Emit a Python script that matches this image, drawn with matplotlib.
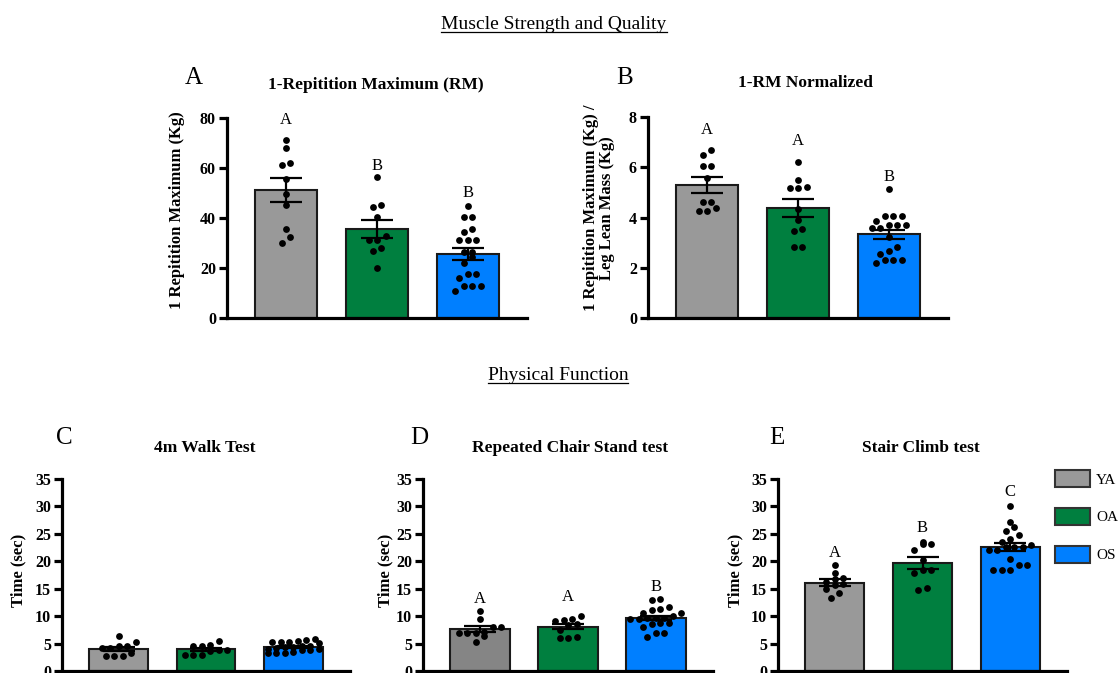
import numpy as np
import matplotlib
matplotlib.use("Agg")
import matplotlib.pyplot as plt
from matplotlib.lines import Line2D
from matplotlib.patches import Patch

plt.rcParams['font.family'] = ['Liberation Serif', 'DejaVu Serif']

W, H = 1120, 673
groups = ['YA', 'OA', 'OS']
colors = ['#999999', '#007f3f', '#007fff']

# A: 1-RM (kg)
rm_ya = [71.3, 68.0, 62.1, 61.1, 55.7, 49.6, 45.1, 35.7, 32.5, 30.1]
rm_oa = [56.4, 45.1, 44.3, 40.4, 32.7, 31.2, 31.2, 28.0, 26.7, 19.9]
rm_os = [44.9, 40.4, 40.4, 35.7, 34.5, 31.1, 31.1, 31.1, 26.5, 26.5,
         24.5, 21.9, 17.5, 17.5, 16.1, 12.8, 12.8, 12.8, 10.8]
# B: 1-RM / leg lean mass
nrm_ya = [6.70, 6.49, 6.06, 6.06, 5.58, 4.60, 4.60, 4.38, 4.26, 4.26]
nrm_oa = [6.22, 5.48, 5.23, 5.16, 5.16, 4.35, 3.91, 3.55, 3.46, 2.82, 2.82]
nrm_os = [5.14, 4.05, 4.05, 4.05, 3.88, 3.72, 3.72, 3.72, 3.57, 3.57,
          3.24, 2.82, 2.68, 2.55, 2.31, 2.31, 2.31, 2.20]
# C: 4m walk (sec)
walk_ya = [6.3, 5.2, 4.6, 4.6, 4.2, 4.2, 3.3, 2.8, 2.8, 2.8]
walk_oa = [5.5, 4.7, 4.6, 4.6, 3.9, 3.9, 3.6, 2.9, 2.9, 2.9]
walk_os = [5.9, 5.6, 5.4, 5.3, 5.2, 5.2, 5.1, 4.6, 4.5, 4.4,
           4.3, 4.2, 4.1, 4.0, 3.9, 3.8, 3.4, 3.3, 3.3, 3.2]
# D: repeated chair stand (sec)
chair_ya = [11.0, 9.5, 8.0, 8.0, 7.0, 7.2, 6.9, 6.9, 6.3, 5.3]
chair_oa = [9.95, 9.4, 9.3, 9.2, 8.5, 8.3, 7.4, 6.2, 6.1, 6.1]
chair_os = [13.2, 12.9, 11.6, 11.3, 11.2, 10.6, 10.5, 10.1, 9.7, 9.6,
            9.6, 9.5, 9.4, 8.8, 8.7, 8.6, 8.0, 7.0, 6.9, 6.2]
# E: stair climb (sec)
stair_ya = [19.4, 17.9, 17.0, 16.8, 16.2, 15.8, 15.6, 14.9, 14.3, 13.3]
stair_oa = [23.5, 23.2, 23.2, 22.1, 20.3, 18.5, 18.5, 17.8, 15.2, 14.7]
stair_os = [30.0, 27.1, 26.2, 25.6, 24.8, 24.1, 23.6, 23.0, 22.6, 22.6,
            22.6, 22.0, 22.0, 20.5, 19.4, 19.4, 18.5, 18.5, 18.5]

letters_a, letters_a_y = ['A', 'B', 'B'], [79.2, 60.8, 50.0]
letters_b, letters_b_y = ['A', 'A', 'B'], [7.5, 7.05, 5.63]
letters_d, letters_d_y = ['A', 'A', 'B'], [13.2, 13.5, 15.4]
letters_e, letters_e_y = ['A', 'B', 'C'], [21.5, 26.1, 32.7]


def scatter_offsets(vals, ppx, ppy, bin_px=7, step_px=8.5, max_row=7):
    # prism-style rows: points close in y share a row, spread symmetrically
    vals = np.asarray(vals, float)
    xs = np.zeros(len(vals))
    rows, row, start = [], [], None
    for i in np.argsort(vals, kind='stable'):
        y = vals[i] * ppy
        if start is None or y - start > bin_px or len(row) >= max_row:
            if row:
                rows.append(row)
            row, start = [i], y
        else:
            row.append(i)
    rows.append(row)
    for row in rows:
        n = len(row)
        for k, i in enumerate(row):
            xs[i] = (k - (n - 1) / 2) * step_px / ppx
    return xs


fig = plt.figure(figsize=(W / 100, H / 100), dpi=100)


def panel(rect, data, ymax, ystep, letters=None, letter_y=None, cols=colors):
    x0, y0, x1, y1 = rect
    ax = fig.add_axes([x0 / W, 1 - y1 / H, (x1 - x0) / W, (y1 - y0) / H])
    ax.set_xlim(-0.65, 2.65)
    ax.set_ylim(0, ymax)
    ppx = (x1 - x0) / 3.3
    ppy = (y1 - y0) / ymax
    for i, vals in enumerate(data):
        v = np.asarray(vals)
        m = v.mean()
        sem = v.std(ddof=1) / np.sqrt(len(v))
        ax.bar(i, m, width=0.675, color=cols[i], edgecolor='#1a1a1a',
               linewidth=1.5, zorder=2)
        ax.scatter(i + scatter_offsets(v, ppx, ppy), v, s=24, color='black',
                   linewidths=0, zorder=3)
        ax.errorbar(i, m, yerr=sem, color='black', capsize=11.5,
                    elinewidth=1.6, capthick=1.6, zorder=4)
    if letters:
        for i, (t, ly) in enumerate(zip(letters, letter_y)):
            ax.text(i, ly, t, ha='center', va='center', fontsize=12)
    for s in ['top', 'right']:
        ax.spines[s].set_visible(False)
    for s in ['left', 'bottom']:
        ax.spines[s].set_linewidth(2.3)
    ticks = np.arange(0, ymax + ystep / 2, ystep)
    ax.set_yticks(ticks, [f'{t:g}' for t in ticks], fontweight='bold', fontsize=11.5)
    ax.set_xticks([])
    ax.tick_params(axis='y', width=2.3, length=6, pad=2)
    return ax


def ftext(x, y, s, **kw):
    return fig.text(x / W, 1 - y / H, s, **kw)


panel((227, 118, 527, 318), [rm_ya, rm_oa, rm_os], 80, 20, letters_a, letters_a_y)
panel((648, 117, 948, 318), [nrm_ya, nrm_oa, nrm_os], 8, 2, letters_b, letters_b_y)
panel((62, 479, 350, 671), [walk_ya, walk_oa, walk_os], 35, 5)
panel((423, 479, 713, 671), [chair_ya, chair_oa, chair_os], 35, 5, letters_d, letters_d_y,
      cols=['#858585', colors[1], colors[2]])
panel((778, 479, 1067, 671), [stair_ya, stair_oa, stair_os], 35, 5, letters_e, letters_e_y)

# panel letters
for x, y, t in [(194, 78, 'A'), (625, 78, 'B'), (64, 438, 'C'), (419, 438, 'D'), (777, 438, 'E')]:
    ftext(x, y, t, fontsize=18, ha='center', va='center')

# panel titles
bold = dict(fontweight='bold', ha='center', va='center')
ftext(376, 85, '1-Repitition Maximum (RM)', fontsize=12.5, **bold)
ftext(805, 83, '1-RM Normalized', fontsize=12.5, **bold)
ftext(205, 448, '4m Walk Test', fontsize=12.5, **bold)
ftext(570, 448, 'Repeated Chair Stand test', fontsize=12.5, **bold)
ftext(921, 448, 'Stair Climb test', fontsize=12.5, **bold)

# y labels
ftext(177, 210, '1 Repitition Maximum (Kg)', fontsize=12, rotation=90, **bold)
ftext(599, 208, '1 Repitition Maximum (Kg) /\nLeg Lean Mass (Kg)', fontsize=12,
      rotation=90, multialignment='center', linespacing=1.0, **bold)
for x in [18, 385, 735]:
    ftext(x, 570, 'Time (sec)', fontsize=12, rotation=90, **bold)

# section headings, underlined
fig.canvas.draw()
renderer = fig.canvas.get_renderer()
for x, y, t in [(554, 29, 'Muscle Strength and Quality'), (558, 380, 'Physical Function')]:
    txt = ftext(x, y, t, fontsize=14, ha='center', va='baseline')
    bb = txt.get_window_extent(renderer)
    yl = (H - y - 2.5) / H
    fig.add_artist(Line2D([bb.x0 / W, bb.x1 / W], [yl, yl], color='black', lw=0.9))

# legend
handles = [Patch(facecolor=c, edgecolor='#333333', linewidth=1.5) for c in colors]
fig.legend(handles, groups, loc='upper left', bbox_to_anchor=(1055 / W, 1 - 470 / H),
           frameon=False, fontsize=11, handlelength=2.3, handleheight=1.35,
           labelspacing=1.35, handletextpad=0.4, borderpad=0, borderaxespad=0)

fig.savefig('out.png', dpi=100)
